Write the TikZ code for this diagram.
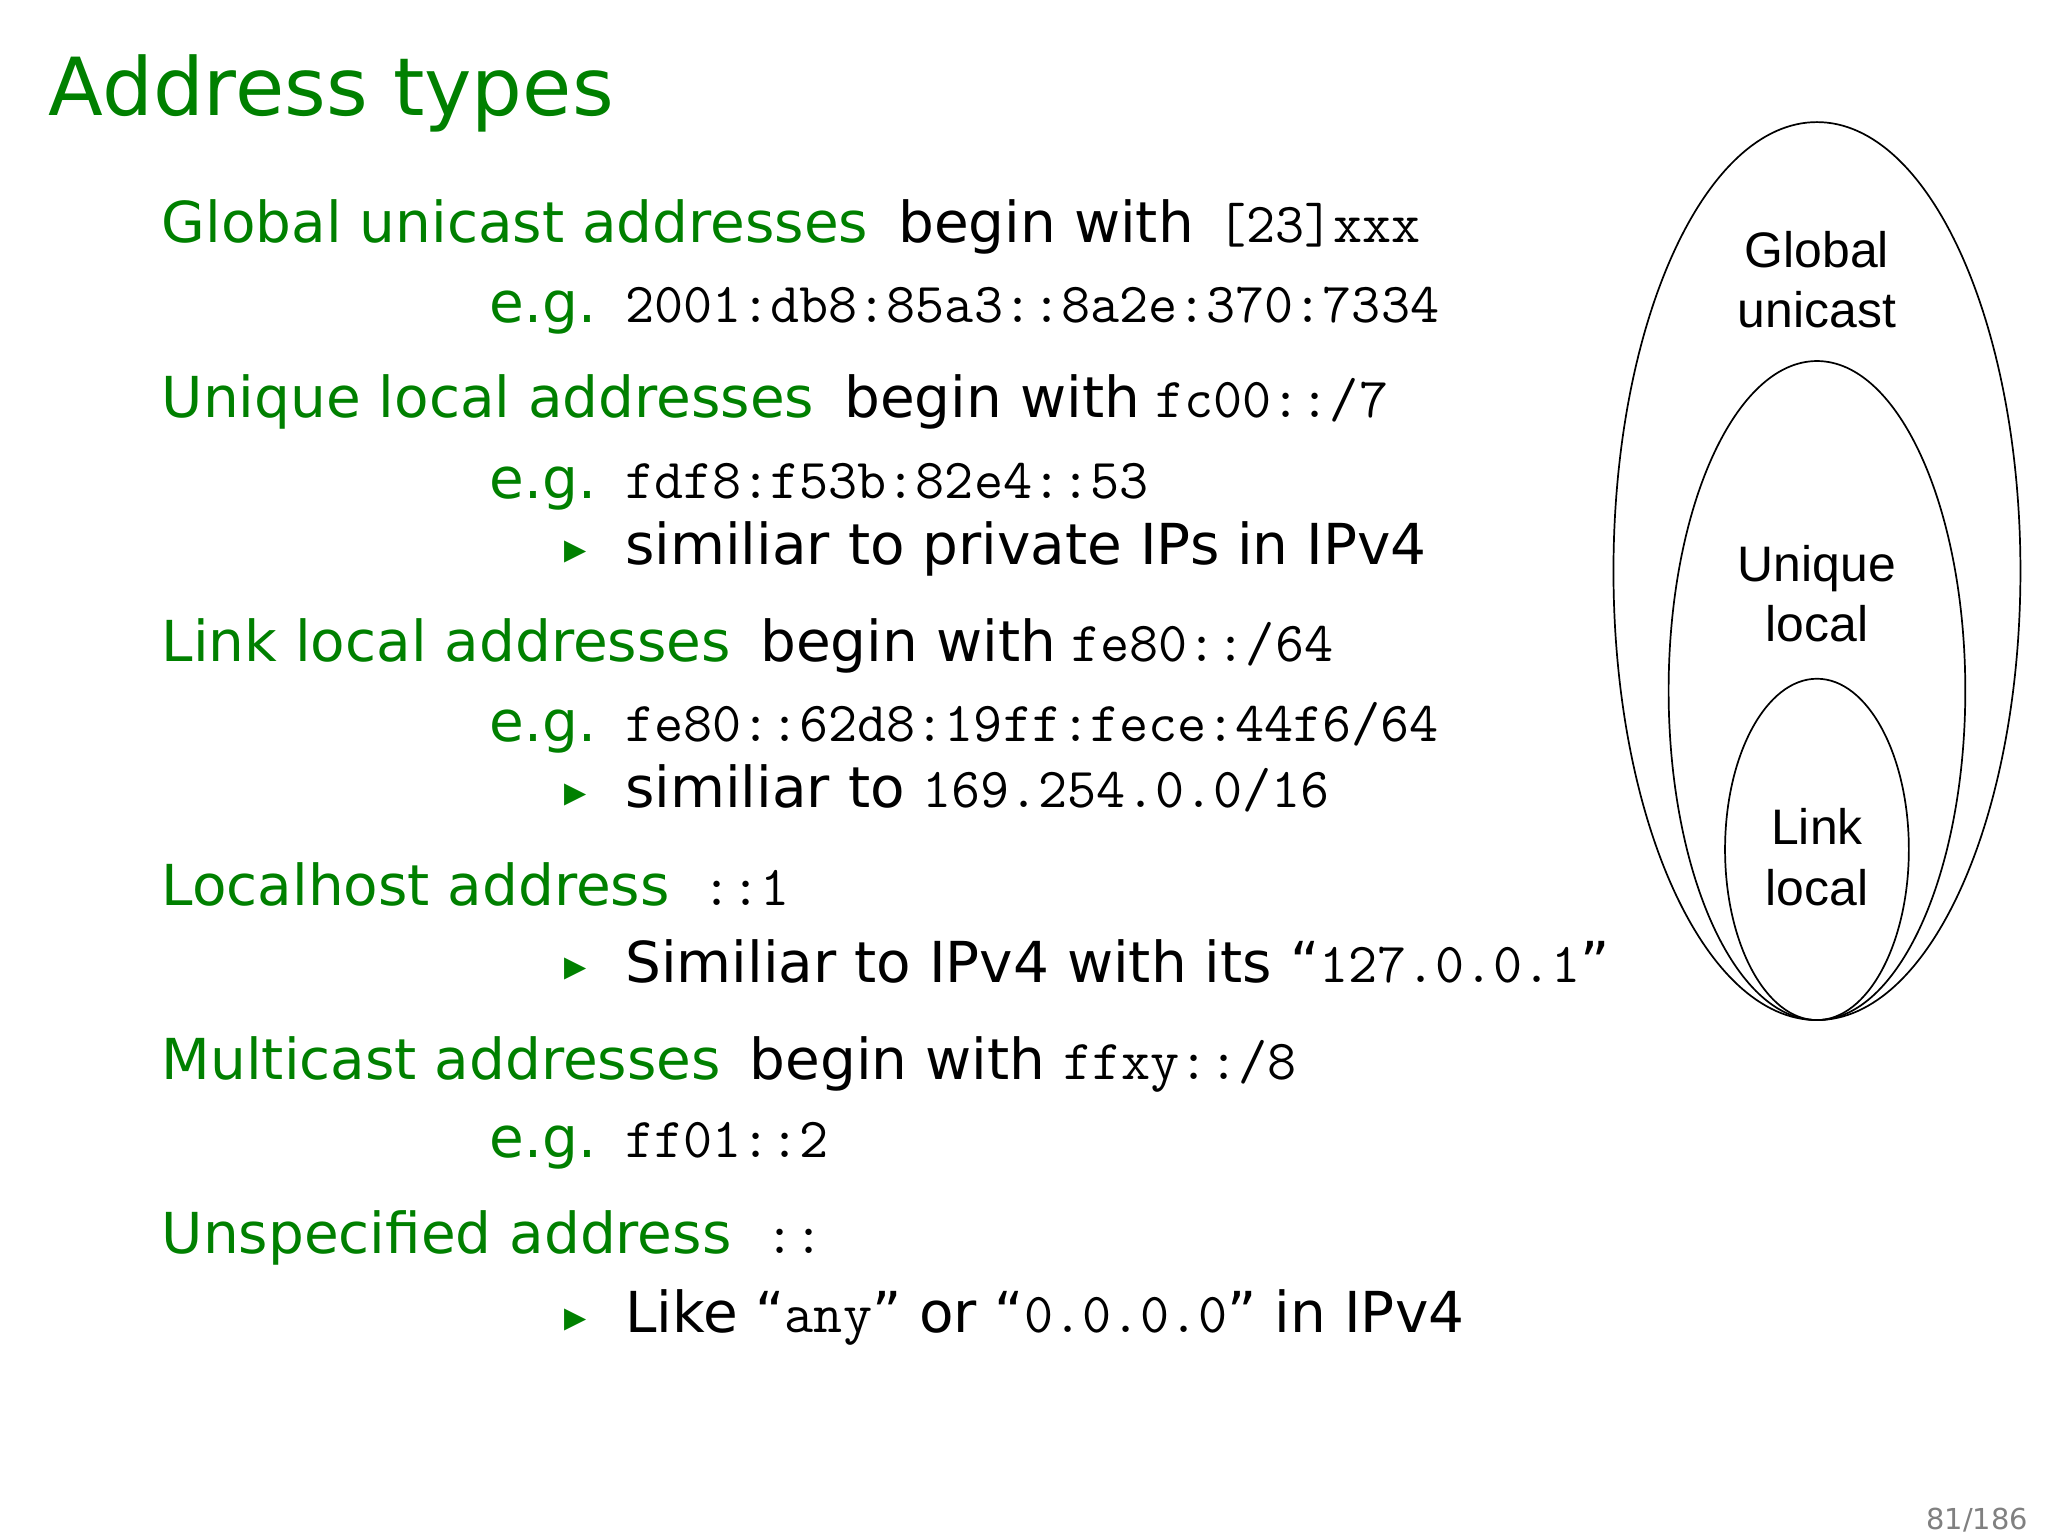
\documentclass[tikz,border=0pt]{standalone}
\usepackage{fontspec}
\setmainfont{DejaVu Sans}
\setmonofont{Latin Modern Mono}
\newfontfamily\arialf{Liberation Sans}
\definecolor{sgreen}{RGB}{0,128,0}
\begin{document}
\begin{tikzpicture}[x=1pt,y=-1pt,
  hd/.style={anchor=base west,inner sep=0,text=sgreen,font=\fontsize{43}{50}\selectfont},
  bd/.style={anchor=base west,inner sep=0,font=\fontsize{43}{50}\selectfont},
  tt/.style={anchor=base west,inner sep=0,font=\fontsize{43}{50}\ttfamily},
  bul/.style={anchor=base west,inner sep=0,text=sgreen,font=\fontsize{22}{26}\selectfont},
  ell/.style={draw,line width=1.3pt},
  lab/.style={align=center,font=\arialf\fontsize{38}{46}\selectfont}]
\useasboundingbox (0,0) rectangle (1560,1170);
\node[anchor=base west,inner sep=0,text=sgreen,font=\fontsize{61}{70}\selectfont] (title) at (37,88) {Address types};
% line 1
\node[hd] (h1) at (123,185) {Global unicast addresses};
\node[bd] (b1) at (684,185) {begin with};
\node[tt] (t1) at (927,185) {[23]xxx};
\node[hd] (e1) at (373,246) {e.g.};
\node[tt] (x1) at (476,246) {2001:db8:85a3::8a2e:370:7334};
% line 2
\node[hd] (h2) at (123,318) {Unique local addresses};
\node[bd] (b2) at (643,318) {begin with};
\node[tt] (t2) at (880,318) {fc00::/7};
\node[hd] (e2) at (373,380) {e.g.};
\node[tt] (x2) at (476,380) {fdf8:f53b:82e4::53};
\node[bul] (p2) at (430,426) {▶};
\node[bd] (s2) at (476,430) {similiar to private IPs in IPv4};
% line 3
\node[hd] (h3) at (123,504) {Link local addresses};
\node[bd] (b3) at (579,504) {begin with};
\node[tt] (t3) at (816,504) {fe80::/64};
\node[hd] (e3) at (373,565) {e.g.};
\node[tt] (x3) at (476,565) {fe80::62d8:19ff:fece:44f6/64};
\node[bul] (p3) at (430,611) {▶};
\node[bd] (s3) at (476,615) {similiar to \texttt{169.254.0.0/16}};
% line 4
\node[hd] (h4) at (123,690) {Localhost address};
\node[tt] (t4) at (535,690) {::1};
\node[bul] (p4) at (430,744) {▶};
\node[bd] (s4) at (476,748) {Similiar to IPv4 with its “\texttt{127.0.0.1}”};
% line 5
\node[hd] (h5) at (123,822) {Multicast addresses};
\node[bd] (b5) at (571,822) {begin with};
\node[tt] (t5) at (810,822) {ffxy::/8};
\node[hd] (e5) at (373,882) {e.g.};
\node[tt] (x5) at (476,882) {ff01::2};
% line 6
\node[hd] (h6) at (123,955) {Unspecified address};
\node[tt] (t6) at (583,955) {::};
\node[bul] (p6) at (430,1011) {▶};
\node[bd] (s6) at (476,1015) {Like “\texttt{any}” or “\texttt{0.0.0.0}” in IPv4};
% ellipses
\draw[ell] (1384,435) ellipse [x radius=155, y radius=342];
\draw[ell] (1384,526) ellipse [x radius=113, y radius=251];
\draw[ell] (1384,647) ellipse [x radius=70, y radius=130];
\node[lab] (l1) at (1384,213) {Global\\unicast};
\node[lab] (l2) at (1384,452) {Unique\\local};
\node[lab] (l3) at (1384,653) {Link\\local};
\node[anchor=base east,inner sep=0,text=gray,font=\fontsize{22}{26}\selectfont] (pg) at (1545,1165) {81/186};
\end{tikzpicture}
\end{document}
